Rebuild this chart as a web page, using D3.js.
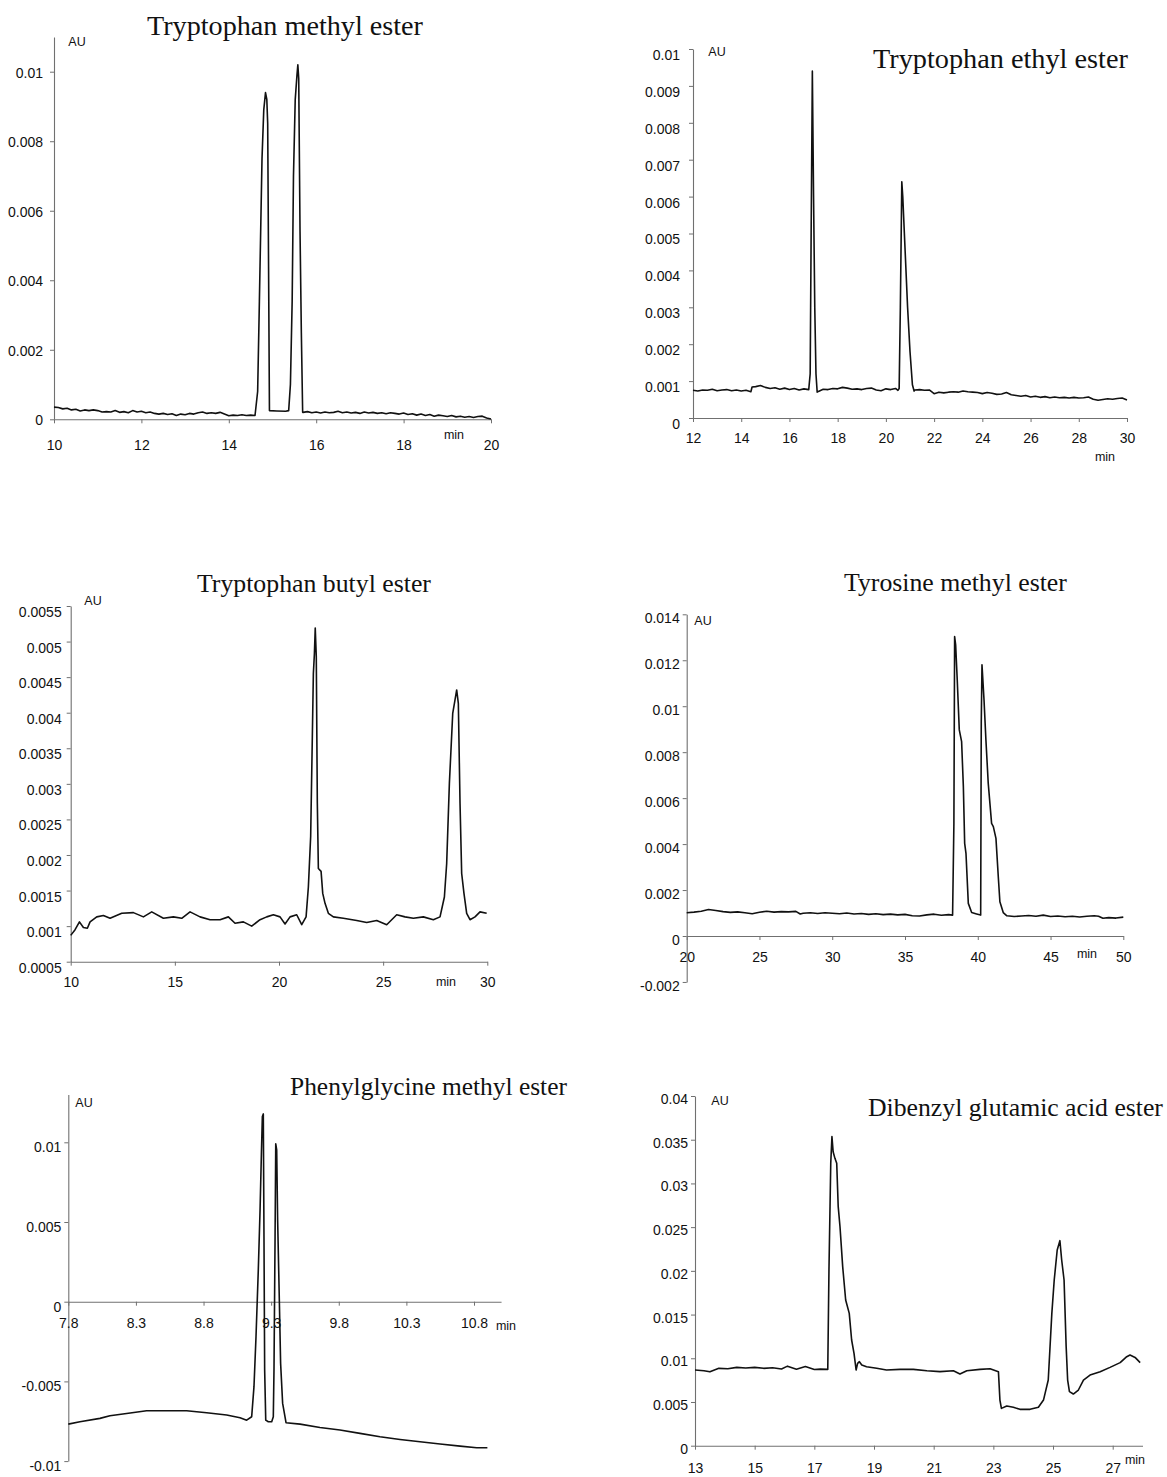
<!DOCTYPE html>
<html>
<head>
<meta charset="utf-8">
<script src="https://cdn.jsdelivr.net/npm/d3@7"></script>
<style>
  html, body { margin: 0; padding: 0; background: #fff; }
  svg { display: block; }
</style>
</head>
<body>
<svg id="chart" width="1167" height="1477"></svg>
<script>
// ---------------- DATA ----------------
const panelTitles = ["Tryptophan methyl ester", "Tryptophan ethyl ester", "Tryptophan butyl ester",
  "Tyrosine methyl ester", "Phenylglycine methyl ester", "Dibenzyl glutamic acid ester"];

// Panel 1 : Tryptophan methyl ester
const trpMeTime = [10.0,10.1,10.2,10.3,10.4,10.5,10.6,10.7,10.8,10.9,11.0,11.1,11.2,11.3,11.4,11.5,11.6,11.7,11.8,11.9,12.0,12.1,12.2,12.3,12.4,12.5,12.6,12.7,12.8,12.9,
  13.0,13.1,13.2,13.3,13.4,13.5,13.6,13.7,13.8,13.9,14.0,14.1,14.2,14.3,14.4,14.5,14.6,
  14.66,14.70,14.76,14.80,14.84,14.87,14.89,14.91,14.93,15.1,15.3,15.37,15.41,15.45,15.48,15.52,15.56,15.58,15.60,15.63,15.66,15.69,
  15.7,15.8,15.9,16.0,16.1,16.2,16.3,16.4,16.5,16.6,16.7,16.8,16.9,17.0,17.1,17.2,17.3,17.4,17.5,17.6,17.7,17.8,17.9,18.0,18.1,18.2,18.3,18.4,18.5,18.6,
  18.7,18.8,18.9,19.0,19.1,19.2,19.3,19.4,19.5,19.6,19.7,19.8,19.9,20.0];
const trpMeAU = [0.00035,0.00034,0.0003,0.00032,0.00027,0.00029,0.00024,0.00027,0.00025,0.00027,0.00025,0.00021,0.00022,0.00021,0.00025,0.0002,0.00022,0.00019,0.00025,0.00021,
  0.00023,0.00019,0.00021,0.00017,0.00015,0.00017,0.00014,0.00016,0.00011,0.00015,0.00013,0.00017,0.00015,0.00019,0.00021,0.00017,0.00019,0.00017,0.0002,0.00015,
  0.0001,0.00012,0.00011,0.00013,0.00011,0.00012,0.00011,
  0.0008,0.0034,0.0075,0.0089,0.0094,0.0092,0.0085,0.0044,0.00025,0.00024,0.00023,0.00025,0.001,0.0034,0.007,0.0092,0.0099,0.0102,0.0098,0.0054,0.0025,0.0002,
  0.0002,0.00022,0.00019,0.00021,0.00018,0.00021,0.00019,0.0002,0.00023,0.00019,0.00021,0.00018,0.0002,0.00017,0.00021,0.00018,0.0002,0.00017,0.00019,0.00016,
  0.00019,0.00017,0.00015,0.00018,0.00014,0.00016,0.00012,0.00015,0.00011,0.00014,0.00009,0.00012,0.0001,0.00008,0.00011,0.00007,0.00009,0.00006,0.00008,0.00005,
  0.00008,0.00009,0.00004,0.00001];
const trpMeXTicks = [10,12,14,16,18,20];
const trpMeXLabels = ["10","12","14","16","18","20"];
const trpMeYTicks = [0,0.002,0.004,0.006,0.008,0.01];
const trpMeYLabels = ["0","0.002","0.004","0.006","0.008","0.01"];

// Panel 2 : Tryptophan ethyl ester
const trpEtTime = [12.0,12.2,12.4,12.6,12.8,13.0,13.2,13.4,13.6,13.8,14.0,14.2,14.4,14.45,14.6,14.8,15.0,15.2,15.4,15.6,15.8,16.0,16.2,16.4,16.6,16.8,
  16.86,16.9,16.95,17.0,17.05,17.1,17.15,
  17.2,17.4,17.6,17.8,18.0,18.2,18.4,18.6,18.8,19.0,19.2,19.4,19.6,19.8,20.0,20.2,20.4,20.5,
  20.55,20.6,20.66,20.7,20.8,20.9,21.0,21.1,21.17,
  21.2,21.4,21.6,21.8,22.0,22.2,22.4,22.6,22.8,23.0,23.2,23.4,23.6,23.8,24.0,24.2,24.4,24.6,24.8,25.0,25.2,25.4,25.6,25.8,26.0,26.2,26.4,26.6,26.8,27.0,
  27.2,27.4,27.6,27.8,28.0,28.2,28.4,28.6,28.8,29.0,29.2,29.4,29.6,29.8,30.0];
const trpEtAU = [0.00075,0.00073,0.00076,0.00075,0.00078,0.00074,0.00076,0.00077,0.00074,0.00076,0.00073,0.00075,0.00071,0.00084,0.00085,0.00088,0.00083,0.0008,0.00082,0.00078,0.00081,0.00077,0.0008,0.00076,0.00079,0.00077,
  0.0012,0.005,0.0094,0.006,0.003,0.0012,0.0007,
  0.00072,0.00078,0.00077,0.0008,0.00079,0.00083,0.00081,0.00078,0.00079,0.00077,0.0008,0.00081,0.00076,0.00074,0.00079,0.00077,0.0008,0.00075,
  0.0008,0.003,0.0064,0.006,0.0045,0.003,0.0018,0.0009,0.00073,
  0.00076,0.00077,0.00075,0.00076,0.00066,0.0007,0.00068,0.0007,0.00071,0.0007,0.00073,0.00071,0.0007,0.00069,0.00066,0.00069,0.00067,0.00064,0.00065,0.00069,
  0.00063,0.00061,0.00059,0.00061,0.00057,0.00059,0.00056,0.00058,0.00055,0.00057,0.00055,0.00056,0.00054,0.00056,0.00054,0.00055,0.00057,0.00051,0.00048,0.0005,
  0.00052,0.00051,0.00053,0.00054,0.00049];
const trpEtXTicks = [12,14,16,18,20,22,24,26,28,30];
const trpEtXLabels = ["12","14","16","18","20","22","24","26","28","30"];
const trpEtYTicks = [0,0.001,0.002,0.003,0.004,0.005,0.006,0.007,0.008,0.009,0.01];
const trpEtYLabels = ["0","0.001","0.002","0.003","0.004","0.005","0.006","0.007","0.008","0.009","0.01"];

// Panel 3 : Tryptophan butyl ester
const trpBuTime = [10.00,10.21,10.42,10.61,10.80,10.93,11.25,11.57,11.89,12.45,13.01,13.49,13.89,14.45,14.93,15.33,15.73,16.21,16.69,17.17,17.57,17.89,18.29,18.69,
  19.09,19.41,19.73,20.05,20.29,20.53,20.85,21.09,21.30,21.41,21.52,21.60,21.65,21.70,21.74,21.79,21.84,21.89,22.02,22.10,22.21,22.37,22.61,
  23.09,23.73,24.21,24.69,25.17,25.65,26.05,26.45,26.93,27.41,27.73,27.94,28.05,28.18,28.34,28.45,28.53,28.61,28.69,28.77,28.88,29.01,29.17,29.41,29.65,29.97];
const trpBuAU = [0.00087,0.00095,0.00106,0.00098,0.00097,0.00106,0.00113,0.00115,0.00111,0.00118,0.00119,0.00113,0.0012,0.00111,0.00113,0.00111,0.0012,0.00113,0.00109,0.00109,0.00113,0.00104,0.00106,0.001,
  0.00109,0.00113,0.00116,0.00113,0.00103,0.00113,0.00116,0.00102,0.00113,0.00155,0.00226,0.00366,0.00455,0.00483,0.00519,0.00479,0.00273,0.00181,0.00177,0.00146,0.00132,0.00118,0.00113,
  0.00111,0.00108,0.00105,0.00108,0.00102,0.00116,0.00113,0.00111,0.00113,0.00109,0.00113,0.00141,0.00188,0.00301,0.00399,0.00418,0.00432,0.00413,0.00273,0.00174,0.00146,0.00118,0.00109,0.00113,0.0012,0.00118];
const trpBuXTicks = [10,15,20,25,30];
const trpBuXLabels = ["10","15","20","25","30"];
const trpBuYTicks = [0.0005,0.001,0.0015,0.002,0.0025,0.003,0.0035,0.004,0.0045,0.005,0.0055];
const trpBuYLabels = ["0.0005","0.001","0.0015","0.002","0.0025","0.003","0.0035","0.004","0.0045","0.005","0.0055"];

// Panel 4 : Tyrosine methyl ester
const tyrMeTime = [20.0,20.5,21.0,21.5,22.0,22.5,23.0,23.5,24.0,24.5,25.0,25.5,26.0,26.5,27.0,27.5,27.8,28.0,28.5,29.0,29.5,30.0,30.5,31.0,31.5,32.0,32.5,33.0,33.5,34.0,
  34.5,35.0,35.5,36.0,36.5,37.0,37.5,38.0,38.27,
  38.36,38.41,38.48,38.59,38.73,38.89,39.01,39.10,39.19,39.35,39.58,39.92,40.20,40.24,40.29,40.43,40.56,40.72,40.95,41.07,41.25,41.41,41.52,41.75,
  42.0,42.5,43.0,43.5,44.0,44.5,45.0,45.5,46.0,46.5,47.0,47.5,48.0,48.3,48.6,49.0,49.5,50.0];
const tyrMeAU = [0.00101,0.00104,0.00108,0.00115,0.00111,0.00106,0.00103,0.00105,0.00101,0.00097,0.00103,0.00108,0.00104,0.00106,0.00105,0.00107,0.00096,0.00099,0.00101,0.00098,
  0.00101,0.00099,0.00097,0.001,0.00096,0.00098,0.00094,0.00097,0.00093,0.00095,0.00092,0.00094,0.00088,0.00087,0.00092,0.00095,0.0009,0.00093,0.00091,
  0.0049,0.01303,0.01267,0.01114,0.00897,0.00846,0.0065,0.00403,0.0036,0.00142,0.00102,0.00096,0.00091,0.00926,0.0118,0.01027,0.00853,0.00664,0.0049,0.00476,0.00425,0.00258,0.00149,0.00102,
  0.00088,0.00085,0.00087,0.00089,0.00086,0.00091,0.00085,0.00087,0.00084,0.00086,0.00083,0.00086,0.00088,0.00086,0.00077,0.0008,0.00078,0.00082];
const tyrMeXTicks = [20,25,30,35,40,45,50];
const tyrMeXLabels = ["20","25","30","35","40","45","50"];
const tyrMeYTicks = [-0.002,0,0.002,0.004,0.006,0.008,0.01,0.012,0.014];
const tyrMeYLabels = ["-0.002","0","0.002","0.004","0.006","0.008","0.01","0.012","0.014"];

// Panel 5 : Phenylglycine methyl ester
const phgMeTime = [7.80,7.886,8.034,8.108,8.231,8.379,8.527,8.675,8.823,8.971,9.07,9.119,9.156,9.173,9.188,9.205,9.218,9.228,9.235,9.242,9.247,9.252,9.26,
  9.279,9.304,9.316,9.321,9.329,9.334,9.341,9.348,9.361,9.37,9.385,9.41,9.514,9.661,9.809,9.957,10.105,10.253,10.401,10.549,10.697,10.82,10.899];
const phgMeAU = [-0.00768,-0.00753,-0.00732,-0.00715,-0.00701,-0.00684,-0.00684,-0.00684,-0.00697,-0.00711,-0.00728,-0.00743,-0.00722,-0.00533,-0.0022,0.00199,0.00575,0.00931,0.01161,0.01178,0.00408,-0.00429,-0.00743,
  -0.00753,-0.00753,-0.00722,-0.00429,0.00408,0.0099,0.00952,0.00513,-0.0001,-0.00387,-0.00638,-0.00759,-0.00768,-0.00789,-0.00805,-0.00826,-0.00847,-0.00864,-0.00879,-0.00893,-0.00906,-0.00916,-0.00916];
const phgMeXTicks = [7.8,8.3,8.8,9.3,9.8,10.3,10.8];
const phgMeXLabels = ["7.8","8.3","8.8","9.3","9.8","10.3","10.8"];
const phgMeYTicks = [-0.01,-0.005,0,0.005,0.01];
const phgMeYLabels = ["-0.01","-0.005","0","0.005","0.01"];

// Panel 6 : Dibenzyl glutamic acid ester
const dbzGluTime = [13.0,13.3,13.5,13.8,14.1,14.4,14.7,15.0,15.3,15.6,15.9,16.1,16.4,16.7,17.0,17.2,17.45,
  17.49,17.55,17.59,17.63,17.69,17.75,17.80,17.86,17.95,18.05,18.17,18.25,18.33,18.40,
  18.45,18.51,18.59,18.75,19.09,19.42,19.87,20.32,20.77,21.21,21.66,21.88,22.11,22.55,22.89,23.17,23.22,23.27,23.45,23.67,23.89,24.23,24.51,24.68,24.84,24.96,
  25.04,25.14,25.23,25.29,25.37,25.44,25.49,25.55,25.68,25.85,26.02,26.24,26.58,26.91,27.25,27.47,27.58,27.75,27.92];
const dbzGluAU = [0.00866,0.00858,0.00845,0.00885,0.0088,0.00896,0.00888,0.00896,0.00885,0.00892,0.00878,0.0091,0.00875,0.00905,0.00872,0.00876,0.00873,
  0.0201,0.0323,0.03535,0.03363,0.03287,0.0323,0.02734,0.02505,0.02048,0.01666,0.01514,0.01209,0.01056,0.00866,
  0.00942,0.00961,0.00923,0.00904,0.00885,0.00866,0.00873,0.00873,0.00858,0.00847,0.00858,0.0082,0.00858,0.00873,0.00881,0.00847,0.00522,0.00427,0.00454,0.00439,0.00416,0.00416,0.00439,0.00522,0.00751,0.01514,
  0.01895,0.02238,0.02345,0.02124,0.01895,0.01133,0.00751,0.00618,0.00591,0.00637,0.00751,0.00808,0.00847,0.00896,0.0095,0.01018,0.01037,0.0101,0.0095];
const dbzGluXTicks = [13,15,17,19,21,23,25,27];
const dbzGluXLabels = ["13","15","17","19","21","23","25","27"];
const dbzGluYTicks = [0,0.005,0.01,0.015,0.02,0.025,0.03,0.035,0.04];
const dbzGluYLabels = ["0","0.005","0.01","0.015","0.02","0.025","0.03","0.035","0.04"];

const xUnit = "min";
const yUnit = "AU";

// ---------------- LAYOUT ----------------
const panels = [
  { title: panelTitles[0], t: trpMeTime, v: trpMeAU, xt: trpMeXTicks, xl: trpMeXLabels, yt: trpMeYTicks, yl: trpMeYLabels,
    xCal: [10, 20], xPix: [54, 491], yCal: [0, 0.01], yPix: [419.3, 71.7], xAxisEnd: 20, yAxis: [0, 0.011], xAxisAt: 0,
    xLab: 26, yLabX: -11, yLabDy: 1, titleX: 147, titleY: 35, titleW: 276, minPos: [454, 435], auPos: [77, 42] },
  { title: panelTitles[1], t: trpEtTime, v: trpEtAU, xt: trpEtXTicks, xl: trpEtXLabels, yt: trpEtYTicks, yl: trpEtYLabels,
    xCal: [12, 30], xPix: [693, 1127], yCal: [0, 0.01], yPix: [418, 49], xAxisEnd: 30, yAxis: [0, 0.01], xAxisAt: 0,
    xLab: 20, yLabX: -13, yLabDy: 6, titleX: 873, titleY: 68, titleW: 255, minPos: [1105, 457], auPos: [717, 52] },
  { title: panelTitles[2], t: trpBuTime, v: trpBuAU, xt: trpBuXTicks, xl: trpBuXLabels, yt: trpBuYTicks, yl: trpBuYLabels,
    xCal: [10, 30], xPix: [70.7, 487.3], yCal: [0.0005, 0.0055], yPix: [961.7, 606], xAxisEnd: 30, yAxis: [0.0005, 0.0055], xAxisAt: 0.0005,
    xLab: 20, yLabX: -9, yLabDy: 6, titleX: 197, titleY: 592, titleW: 234, minPos: [446, 982], auPos: [93, 601] },
  { title: panelTitles[3], t: tyrMeTime, v: tyrMeAU, xt: tyrMeXTicks, xl: tyrMeXLabels, yt: tyrMeYTicks, yl: tyrMeYLabels,
    xCal: [20, 50], xPix: [686.7, 1123.3], yCal: [0, 0.014], yPix: [936, 614.3], xAxisEnd: 50, yAxis: [-0.002, 0.014], xAxisAt: 0,
    xLab: 21, yLabX: -7, yLabDy: 4, titleX: 844, titleY: 591, titleW: 223, minPos: [1087, 954], auPos: [703, 621] },
  { title: panelTitles[4], t: phgMeTime, v: phgMeAU, xt: phgMeXTicks, xl: phgMeXLabels, yt: phgMeYTicks, yl: phgMeYLabels,
    xCal: [7.8, 10.8], xPix: [68.3, 474], yCal: [0, 0.01], yPix: [1301.7, 1142.3], xAxisEnd: 11.0, yAxis: [-0.01, 0.013], xAxisAt: 0,
    xLab: 21, yLabX: -7, yLabDy: 5, titleX: 290, titleY: 1095, titleW: 277, minPos: [506, 1326], auPos: [84, 1103] },
  { title: panelTitles[5], t: dbzGluTime, v: dbzGluAU, xt: dbzGluXTicks, xl: dbzGluXLabels, yt: dbzGluYTicks, yl: dbzGluYLabels,
    xCal: [13, 27], xPix: [695, 1112.7], yCal: [0, 0.04], yPix: [1445.7, 1096], xAxisEnd: 28, yAxis: [0, 0.04], xAxisAt: 0,
    xLab: 22, yLabX: -7, yLabDy: 3, titleX: 868, titleY: 1116, titleW: 295, minPos: [1135, 1460], auPos: [720, 1101] }
];

const svg = d3.select("#chart");
const axisColor = "#707070";
const sans = "'Liberation Sans', Arial, Helvetica, sans-serif";
const serif = "'Liberation Serif', 'Times New Roman', Times, serif";

panels.forEach(p => {
  const x = d3.scaleLinear().domain(p.xCal).range(p.xPix);
  const y = d3.scaleLinear().domain(p.yCal).range(p.yPix);
  const g = svg.append("g");

  // y axis
  const yAx = y.copy().domain(p.yAxis).range([y(p.yAxis[0]), y(p.yAxis[1])]);
  const yG = g.append("g").attr("transform", `translate(${x(p.xCal[0])},0)`)
    .call(d3.axisLeft(yAx).tickValues(p.yt).tickFormat((d, i) => p.yl[i]).tickSize(4).tickSizeOuter(0));
  yG.select(".domain").attr("stroke", axisColor).attr("stroke-width", 1.1);
  yG.selectAll(".tick line").attr("stroke", axisColor);
  yG.selectAll(".tick text").attr("x", p.yLabX).attr("dy", "0.32em").attr("y", p.yLabDy)
    .attr("fill", "#111").style("font-family", sans).style("font-size", "14px");

  // x axis
  const xAx = x.copy().domain([p.xCal[0], p.xAxisEnd]).range([x(p.xCal[0]), x(p.xAxisEnd)]);
  const xG = g.append("g").attr("transform", `translate(0,${y(p.xAxisAt)})`)
    .call(d3.axisBottom(xAx).tickValues(p.xt).tickFormat((d, i) => p.xl[i]).tickSize(4).tickSizeOuter(0));
  xG.select(".domain").attr("stroke", axisColor).attr("stroke-width", 1.1);
  xG.selectAll(".tick line").attr("stroke", axisColor);
  xG.selectAll(".tick text").attr("y", p.xLab).attr("dy", "0.35em")
    .attr("fill", "#111").style("font-family", sans).style("font-size", "14px");

  // trace
  const pts = p.t.map((t, i) => [t, p.v[i]]);
  g.append("path").datum(pts)
    .attr("fill", "none").attr("stroke", "#111").attr("stroke-width", 1.6).attr("stroke-linejoin", "round")
    .attr("d", d3.line().x(d => x(d[0])).y(d => y(d[1])));

  // unit labels
  g.append("text").attr("x", p.auPos[0]).attr("y", p.auPos[1]).attr("dy", "0.35em").attr("text-anchor", "middle")
    .style("font-family", sans).style("font-size", "12.5px").attr("fill", "#111").text(yUnit);
  g.append("text").attr("x", p.minPos[0]).attr("y", p.minPos[1]).attr("dy", "0.35em").attr("text-anchor", "middle")
    .style("font-family", sans).style("font-size", "12.5px").attr("fill", "#111").text(xUnit);

  // title, sized to its measured width
  const tt = g.append("text").attr("x", p.titleX).attr("y", p.titleY)
    .style("font-family", serif).style("font-size", "100px").attr("fill", "#111").text(p.title);
  const w100 = tt.node().getComputedTextLength();
  tt.style("font-size", (100 * p.titleW / w100).toFixed(2) + "px");
});
</script>
</body>
</html>
